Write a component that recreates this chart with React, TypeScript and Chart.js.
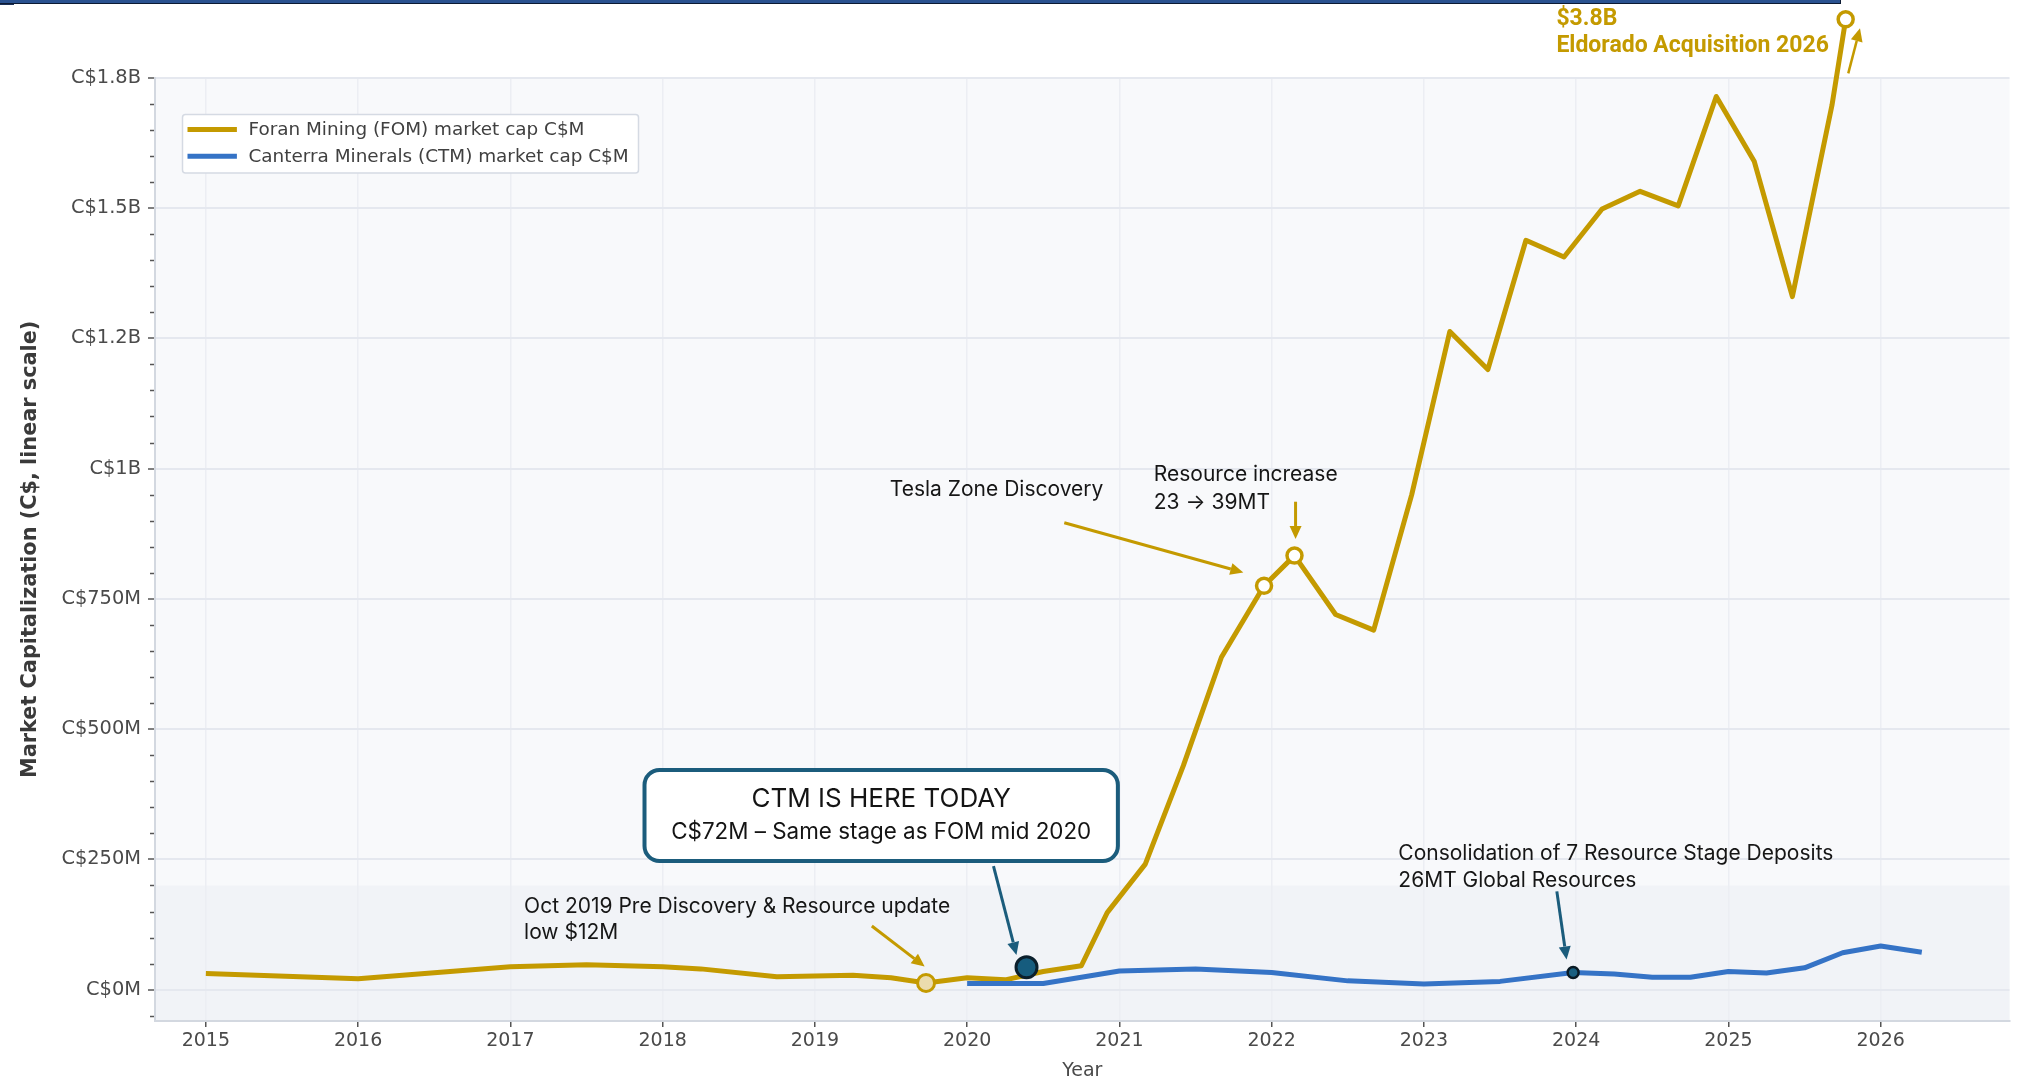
import React, { useEffect, useRef } from 'react';
import { Chart, registerables } from 'chart.js';

Chart.register(...registerables);

// ---------------- DATA ----------------
const fomYears = [2015.0, 2016.0, 2017.0, 2017.5, 2018.0, 2018.25, 2018.75, 2019.25, 2019.5, 2019.73, 2020.0, 2020.25, 2020.5, 2020.75, 2020.92, 2021.17, 2021.42, 2021.67, 2021.95, 2022.15, 2022.42, 2022.67, 2022.92, 2023.17, 2023.42, 2023.67, 2023.92, 2024.17, 2024.42, 2024.67, 2024.92, 2025.17, 2025.42, 2025.68, 2025.77];
const fomValues = [31, 21, 44, 48, 44, 40, 25, 28, 23, 13, 23, 19, 35, 46, 148, 241, 430, 638, 775, 833, 720, 690, 950, 1263, 1190, 1438, 1406, 1498, 1532, 1504, 1714, 1589, 1330, 1697, 1862];

const ctmYears = [2020.0, 2020.5, 2021.0, 2021.5, 2022.0, 2022.5, 2023.0, 2023.5, 2023.98, 2024.25, 2024.5, 2024.75, 2025.0, 2025.25, 2025.5, 2025.75, 2026.0, 2026.27];
const ctmValues = [12, 12, 36, 40, 33, 17, 11, 16, 33, 30, 24, 24, 35, 32, 42, 71, 84, 72];

// highlighted points
const lowYears = [2019.73];
const lowValues = [13];
const ctmTodayYears = [2020.39];
const ctmTodayValues = [43];
const fomKeyYears = [2021.95, 2022.15, 2025.77];
const fomKeyValues = [775, 833, 1862];
const consolidationYears = [2023.98];
const consolidationValues = [33];

const xTickYears = [2015, 2016, 2017, 2018, 2019, 2020, 2021, 2022, 2023, 2024, 2025, 2026];
const yTickValues = [0, 250, 500, 750, 1000, 1250, 1500, 1750];
const yTickLabels = ['C$0M', 'C$250M', 'C$500M', 'C$750M', 'C$1B', 'C$1.2B', 'C$1.5B', 'C$1.8B'];
const lowZoneTop = 200;

const FOM_LABEL = 'Foran Mining (FOM) market cap C$M';
const CTM_LABEL = 'Canterra Minerals (CTM) market cap C$M';

// ---------------- STYLE ----------------
const GOLD = '#C49A00';
const BLUE = '#3573C6';
const TEAL = '#1B5C7C';
const TEXT = '#161616';
const TICK_FONT = 'DejaVu Sans';
const NOTE_FONT = 'Inter';
const PLOT_BOX = { left: 155, right: 2015, top: 77.7, bottom: 1021 };

// annotations (positions in data coordinates)
const notes = [
  { lines: ['Tesla Zone Discovery'], x: 2019.492, ys: [958.9], size: 21, color: TEXT, weight: 'normal', family: NOTE_FONT },
  { lines: ['Resource increase', '23 \u2192 39MT'], x: 2021.226, ys: [987.7, 934], size: 21, color: TEXT, weight: 'normal', family: NOTE_FONT },
  { lines: ['Oct 2019 Pre Discovery & Resource update', 'low $12M'], x: 2017.09, ys: [159.1, 108.9], size: 21, color: TEXT, weight: 'normal', family: NOTE_FONT },
  { lines: ['Consolidation of 7 Resource Stage Deposits', '26MT Global Resources'], x: 2022.832, ys: [261.7, 209.6], size: 21, color: TEXT, weight: 'normal', family: NOTE_FONT },
  { lines: ['$3.8B', 'Eldorado Acquisition 2026'], x: 2023.87, ys: [1862.6, 1810.8], size: 23, color: GOLD, weight: 'bold', family: 'Roboto' },
];

const arrows = [
  { from: [2020.638, 896], to: [2021.814, 800.6], color: GOLD, width: 3 },
  { from: [2022.157, 936.4], to: [2022.157, 864.9], color: GOLD, width: 3 },
  { from: [2019.374, 122.3], to: [2019.721, 44.6], color: GOLD, width: 3 },
  { from: [2020.173, 237.4], to: [2020.324, 66.6], color: TEAL, width: 3 },
  { from: [2023.873, 188.7], to: [2023.937, 58.2], color: TEAL, width: 3 },
  { from: [2025.787, 1758.4], to: [2025.864, 1844.8], color: GOLD, width: 2.5 },
];

const ctmBox = {
  x0: 2017.881, x1: 2020.99, y0: 421.6, y1: 247,
  title: 'CTM IS HERE TODAY', titleY: 366,
  sub: 'C$72M \u2013 Same stage as FOM mid 2020', subY: 303,
};

function drawArrow(ctx: CanvasRenderingContext2D, x1: number, y1: number, x2: number, y2: number, color: string, w: number) {
  const head = 13, hw = 6;
  const ang = Math.atan2(y2 - y1, x2 - x1);
  const bx = x2 - head * Math.cos(ang);
  const by = y2 - head * Math.sin(ang);
  ctx.strokeStyle = color;
  ctx.lineWidth = w;
  ctx.lineCap = 'butt';
  ctx.beginPath();
  ctx.moveTo(x1, y1);
  ctx.lineTo(bx, by);
  ctx.stroke();
  ctx.fillStyle = color;
  ctx.beginPath();
  ctx.moveTo(x2, y2);
  ctx.lineTo(bx + hw * Math.sin(ang), by - hw * Math.cos(ang));
  ctx.lineTo(bx - hw * Math.sin(ang), by + hw * Math.cos(ang));
  ctx.closePath();
  ctx.fill();
}

function roundRect(ctx: CanvasRenderingContext2D, x: number, y: number, w: number, h: number, r: number) {
  ctx.beginPath();
  ctx.moveTo(x + r, y);
  ctx.lineTo(x + w - r, y);
  ctx.arcTo(x + w, y, x + w, y + r, r);
  ctx.lineTo(x + w, y + h - r);
  ctx.arcTo(x + w, y + h, x + w - r, y + h, r);
  ctx.lineTo(x + r, y + h);
  ctx.arcTo(x, y + h, x, y + h - r, r);
  ctx.lineTo(x, y + r);
  ctx.arcTo(x, y, x + r, y, r);
  ctx.closePath();
}

const backgroundPlugin = {
  id: 'plotBackground',
  beforeDraw(chart: any) {
    const { ctx, chartArea: a, scales } = chart;
    const y = scales.y;
    ctx.save();
    ctx.fillStyle = '#ffffff';
    ctx.fillRect(0, 0, chart.width, chart.height);
    ctx.fillStyle = '#f8f9fb';
    ctx.fillRect(a.left, a.top, a.right - a.left, a.bottom - a.top);
    const yb = y.getPixelForValue(lowZoneTop);
    ctx.fillStyle = '#f1f3f7';
    ctx.fillRect(a.left, yb, a.right - a.left, a.bottom - yb);
    ctx.restore();
  },
};

// points that fall outside the chart area (the library skips them) are drawn from their computed elements
const outsidePointsPlugin = {
  id: 'outsidePoints',
  afterDatasetsDraw(chart: any) {
    const { ctx, chartArea: a } = chart;
    chart.data.datasets.forEach((d: any, i: number) => {
      if (d.showLine !== false) return;
      const meta = chart.getDatasetMeta(i);
      meta.data.forEach((el: any) => {
        const r = d.pointRadius;
        if (el.y >= a.top - r && el.y <= a.bottom + r && el.x >= a.left - r && el.x <= a.right + r) return;
        ctx.save();
        ctx.beginPath();
        ctx.arc(el.x, el.y, r, 0, Math.PI * 2);
        ctx.fillStyle = d.pointBackgroundColor;
        ctx.fill();
        ctx.lineWidth = d.pointBorderWidth;
        ctx.strokeStyle = d.pointBorderColor;
        ctx.stroke();
        ctx.restore();
      });
    });
  },
};

const overlayPlugin = {
  id: 'overlay',
  afterDraw(chart: any) {
    const { ctx, chartArea: a, scales } = chart;
    const xs = scales.x, ys = scales.y;
    const px = (v: number) => xs.getPixelForValue(v);
    const py = (v: number) => ys.getPixelForValue(v);
    ctx.save();

    // minor y ticks
    ctx.strokeStyle = '#555';
    ctx.lineWidth = 1.5;
    for (let v = -50; v <= 1750; v += 50) {
      if (v % 250 === 0) continue;
      const yy = Math.round(py(v)) + 0.5;
      ctx.beginPath();
      ctx.moveTo(a.left - 5, yy);
      ctx.lineTo(a.left - 1, yy);
      ctx.stroke();
    }

    // y axis title
    ctx.save();
    ctx.translate(31, (a.top + a.bottom) / 2);
    ctx.rotate(-Math.PI / 2);
    ctx.font = `bold 20.8px "${TICK_FONT}"`;
    ctx.fillStyle = '#3a3a3a';
    ctx.textAlign = 'center';
    ctx.textBaseline = 'middle';
    ctx.fillText('Market Capitalization (C$, linear scale)', 0, 0);
    ctx.restore();

    // x axis title
    ctx.font = `19px "${TICK_FONT}"`;
    ctx.fillStyle = '#4a4a4a';
    ctx.textAlign = 'center';
    ctx.textBaseline = 'middle';
    ctx.fillText('Year', (a.left + a.right) / 2, a.bottom + 50);

    // legend
    const lx = a.left + 27.5, ly = a.top + 36.8, lw = 456, lh = 58.4;
    roundRect(ctx, lx, ly, lw, lh, 3);
    ctx.fillStyle = '#ffffff';
    ctx.fill();
    ctx.strokeStyle = '#d5dae3';
    ctx.lineWidth = 1.5;
    ctx.stroke();
    const ds = chart.data.datasets;
    const legendItems = [ds.find((d: any) => d.label === FOM_LABEL), ds.find((d: any) => d.label === CTM_LABEL)];
    legendItems.forEach((d: any, i: number) => {
      const cy = ly + 15 + i * 26.7;
      ctx.strokeStyle = d.borderColor;
      ctx.lineWidth = 5;
      ctx.beginPath();
      ctx.moveTo(lx + 5, cy);
      ctx.lineTo(lx + 54.4, cy);
      ctx.stroke();
      ctx.font = `18.4px "${TICK_FONT}"`;
      ctx.fillStyle = '#404040';
      ctx.textAlign = 'left';
      ctx.textBaseline = 'middle';
      ctx.fillText(d.label, lx + 66, cy + 1);
    });

    // arrows
    arrows.forEach((ar) => {
      drawArrow(ctx, px(ar.from[0]), py(ar.from[1]), px(ar.to[0]), py(ar.to[1]), ar.color, ar.width);
    });

    // notes
    notes.forEach((n) => {
      ctx.font = `${n.weight === 'bold' ? 'bold ' : ''}${n.size}px "${n.family}"`;
      ctx.fillStyle = n.color;
      ctx.textAlign = 'left';
      ctx.textBaseline = 'middle';
      n.lines.forEach((t, i) => ctx.fillText(t, px(n.x), py(n.ys[i])));
    });

    // CTM box
    const bx0 = px(ctmBox.x0), bx1 = px(ctmBox.x1), by0 = py(ctmBox.y0), by1 = py(ctmBox.y1);
    roundRect(ctx, bx0, by0, bx1 - bx0, by1 - by0, 15);
    ctx.fillStyle = '#ffffff';
    ctx.fill();
    ctx.strokeStyle = TEAL;
    ctx.lineWidth = 4;
    ctx.stroke();
    ctx.fillStyle = '#141414';
    ctx.textAlign = 'center';
    ctx.textBaseline = 'middle';
    ctx.font = `26px "${NOTE_FONT}"`;
    ctx.fillText(ctmBox.title, (bx0 + bx1) / 2, py(ctmBox.titleY));
    ctx.font = `22.4px "${NOTE_FONT}"`;
    ctx.fillText(ctmBox.sub, (bx0 + bx1) / 2, py(ctmBox.subY));

    ctx.restore();
  },
};

const pts = (xs: number[], ys: number[]) => xs.map((x, i) => ({ x, y: ys[i] }));

export default function App() {
  const ref = useRef<HTMLCanvasElement>(null);
  useEffect(() => {
    const canvas = ref.current;
    if (!canvas) return;
    const chart = new Chart(canvas, {
      type: 'line',
      data: {
        datasets: [
          { label: 'low', data: pts(lowYears, lowValues), showLine: false, pointRadius: 8.5, pointBorderWidth: 3, pointBackgroundColor: '#EBDCAE', pointBorderColor: GOLD, order: 0, clip: false } as any,
          { label: 'today', data: pts(ctmTodayYears, ctmTodayValues), showLine: false, pointRadius: 10.5, pointBorderWidth: 3, pointBackgroundColor: '#165C7E', pointBorderColor: '#0b1f2c', order: 0, clip: false } as any,
          { label: 'fomKey', data: pts(fomKeyYears, fomKeyValues), showLine: false, pointRadius: 7.5, pointBorderWidth: 3.5, pointBackgroundColor: '#ffffff', pointBorderColor: GOLD, order: 0, clip: false } as any,
          { label: 'consol', data: pts(consolidationYears, consolidationValues), showLine: false, pointRadius: 5.5, pointBorderWidth: 2.5, pointBackgroundColor: '#1a5f80', pointBorderColor: '#0a1a24', order: 0, clip: false } as any,
          { label: CTM_LABEL, data: pts(ctmYears, ctmValues), borderColor: BLUE, borderWidth: 5, pointRadius: 0, tension: 0, borderJoinStyle: 'round', borderCapStyle: 'butt', order: 1, clip: false } as any,
          { label: FOM_LABEL, data: pts(fomYears, fomValues), borderColor: GOLD, borderWidth: 5, pointRadius: 0, tension: 0, borderJoinStyle: 'round', borderCapStyle: 'butt', order: 2, clip: false } as any,
        ],
      },
      options: {
        responsive: false,
        maintainAspectRatio: false,
        animation: false,
        devicePixelRatio: 1,
        events: [],
        layout: { padding: { left: 0, right: 2023 - PLOT_BOX.right, top: PLOT_BOX.top, bottom: 0 } },
        plugins: { legend: { display: false }, tooltip: { enabled: false }, title: { display: false } },
        scales: {
          x: {
            type: 'linear',
            min: 2014.666,
            max: 2026.846,
            afterFit: (s: any) => { s.height = 67; s.paddingLeft = 0; s.paddingRight = 0; },
            afterBuildTicks: (s: any) => { s.ticks = xTickYears.map((v) => ({ value: v })); },
            ticks: {
              callback: (_v: any, i: number) => String(xTickYears[i]),
              font: { family: TICK_FONT, size: 19 },
              color: '#4a4a4a',
              padding: 3,
              maxRotation: 0,
              autoSkip: false,
            },
            grid: { color: '#eceef3', lineWidth: 1.5, tickLength: 6, tickColor: '#555', tickWidth: 1.5 },
            border: { display: true, color: '#d3d8e0', width: 2 },
          },
          y: {
            type: 'linear',
            min: -60,
            max: 1750,
            afterFit: (s: any) => { s.width = PLOT_BOX.left; s.paddingTop = 0; s.paddingBottom = 0; },
            afterBuildTicks: (s: any) => { s.ticks = yTickValues.map((v) => ({ value: v })); },
            ticks: {
              callback: (_v: any, i: number) => yTickLabels[i],
              font: { family: TICK_FONT, size: 19.4 },
              color: '#4a4a4a',
              padding: 7,
              autoSkip: false,
            },
            grid: { color: '#e5e8ef', lineWidth: 2, tickLength: 7, tickColor: '#555', tickWidth: 1.5 },
            border: { display: true, color: '#d3d8e0', width: 2 },
          },
        },
      } as any,
      plugins: [backgroundPlugin, outsidePointsPlugin, overlayPlugin],
    });
    // settle the layout so the plot area lands on the intended box
    for (let k = 0; k < 4; k++) {
      const a = chart.chartArea;
      const pad = (chart.options.layout as any).padding;
      const dr = a.right - PLOT_BOX.right;
      const dt = PLOT_BOX.top - a.top;
      if (Math.abs(dr) < 0.25 && Math.abs(dt) < 0.25) break;
      pad.right = Math.max(0, pad.right + dr);
      pad.top = Math.max(0, pad.top + dt);
      chart.update();
    }
    return () => chart.destroy();
  }, []);

  return (
    <div style={{ position: 'fixed', left: 0, top: 0, width: 2023, height: 1088, background: '#ffffff', overflow: 'hidden' }}>
      <canvas ref={ref} width={2023} height={1088} style={{ position: 'absolute', left: 0, top: 0, width: 2023, height: 1088 }} />
      <div style={{ position: 'absolute', left: 0, top: 0, width: 1840, height: 3, background: '#2a5290', borderBottom: '1px solid #0c1a33', borderRight: '1px solid #0c1a33' }} />
      <div style={{ position: 'absolute', left: 0, top: 4, width: 14, height: 1, background: '#1b2f55' }} />
    </div>
  );
}
